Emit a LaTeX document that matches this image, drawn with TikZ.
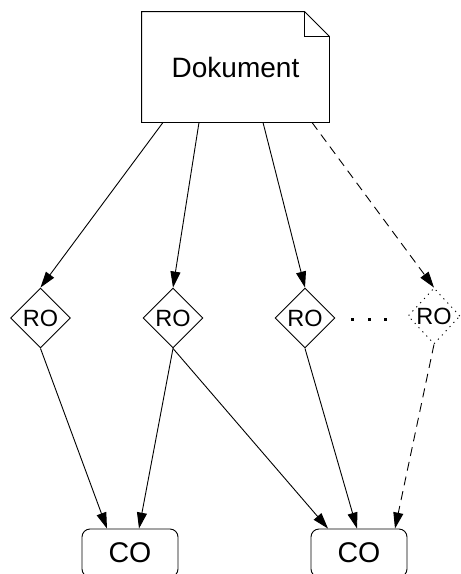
\documentclass[tikz,border=0pt]{standalone}
\usepackage{fontspec}
\setmainfont{Liberation Sans}
\usetikzlibrary{shapes.geometric,arrows.meta}

\begin{document}
\begin{tikzpicture}[x=1pt,y=-1pt,
  line width=0.9pt,
  link/.style={-{Triangle[length=16pt,width=10pt]}},
  dashlink/.style={link,dash pattern=on 9pt off 6pt},
  ro/.style={diamond,draw,aspect=1,inner sep=0pt,minimum width=60pt,minimum height=60pt,font=\fontsize{23.5}{25}\selectfont},
  rohidden/.style={ro,dash pattern=on 1.2pt off 4.5pt,minimum width=52pt,minimum height=56pt},
  co/.style={draw,rounded corners=8pt,minimum width=96pt,minimum height=48pt,inner sep=0pt,font=\fontsize{28.5}{30}\selectfont},
  docbox/.style={minimum width=187pt,minimum height=110pt,inner sep=0pt,font=\fontsize{28}{30}\selectfont}
]
\useasboundingbox (0,0) rectangle (461,574);

% document with folded corner
\node[docbox] (doc) at (235.5,67) {Dokument};
\draw (doc.south west) -- (doc.north west) -- ([xshift=-25pt]doc.north east)
      -- ([yshift=-25pt]doc.north east) -- (doc.south east) -- cycle;
\draw ([xshift=-25pt]doc.north east) -- ([xshift=-25pt,yshift=-25pt]doc.north east)
      -- ([yshift=-25pt]doc.north east);

% role objects
\node[ro] (ro1) at (40.5,318) {RO};
\node[ro] (ro2) at (173,318) {RO};
\node[ro] (ro3) at (305,318) {RO};
\node[rohidden] (ro4) at (434,316) {RO};

% ellipsis between the last two role objects
\foreach \x in {352,369,385}
  \fill (\x-1.5,317.5) rectangle (\x+1.5,320.5);

% content objects
\node[co] (co1) at (130,553) {CO};
\node[co] (co2) at (359,553) {CO};

% document to role objects
\draw[link] ([xshift=-72.5pt]doc.south) -- (ro1.north);
\draw[link] ([xshift=-36.5pt]doc.south) -- (ro2.north);
\draw[link] ([xshift=27.5pt]doc.south) -- (ro3.north);
\draw[dashlink] ([xshift=76.5pt]doc.south) -- (ro4.north);

% role objects to content objects
\draw[link] (ro1.south) -- ([xshift=-23pt]co1.north);
\draw[link] (ro2.south) -- ([xshift=9pt]co1.north);
\draw[link] (ro2.south) -- ([xshift=-31pt]co2.north);
\draw[link] (ro3.south) -- ([xshift=-2pt]co2.north);
\draw[dashlink] (ro4.south) -- ([xshift=36pt]co2.north);
\end{tikzpicture}
\end{document}
